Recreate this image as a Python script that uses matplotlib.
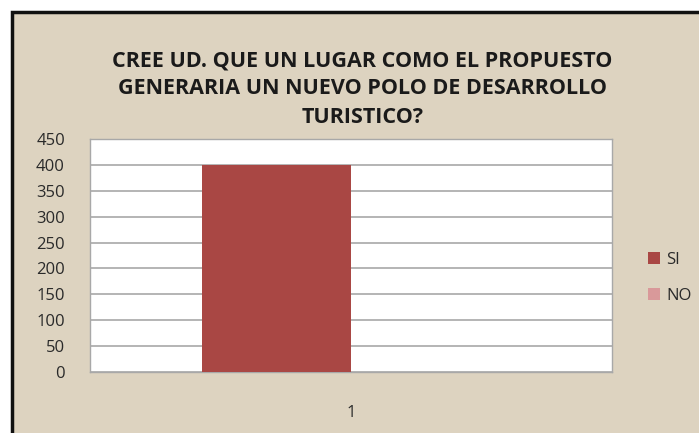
import matplotlib.pyplot as plt
from matplotlib.patches import Rectangle

# chart data
categories = ['1']
series_names = ['SI', 'NO']
series_values = [[400], [0]]
series_colors = ['#A94744', '#D9999A']
y_ticks = [0, 50, 100, 150, 200, 250, 300, 350, 400, 450]
title = 'CREE UD. QUE UN LUGAR COMO EL PROPUESTO\nGENERARIA UN NUEVO POLO DE DESARROLLO\nTURISTICO?'

W, H = 699, 433
fig = plt.figure(figsize=(W / 100, H / 100), dpi=100)
fig.patch.set_facecolor('white')

# beige panel with dark frame (runs off right/bottom edge)
frame = Rectangle((11.5 / W, -0.05), 1.2, (H - 11.5) / H + 0.05, transform=fig.transFigure,
                  facecolor='#DDD3C0', edgecolor='#111111', linewidth=2.5, zorder=-5)
fig.patches.append(frame)

ax = fig.add_axes([90 / W, (H - 372) / H, (612 - 90) / W, (372 - 139) / H])
ax.set_zorder(2)
ax.set_facecolor('white')

n = len(series_names)
bar_w = 1 / 3.5
for i, name in enumerate(series_names):
    offset = (i - (n - 1) / 2) * bar_w
    xs = [j + offset for j in range(len(categories))]
    ax.bar(xs, series_values[i], bar_w, color=series_colors[i], label=name, zorder=3)

ax.set_xlim(-0.5, len(categories) - 0.5)
ax.set_ylim(0, 450)
ax.set_yticks(y_ticks)
ax.set_xticks(range(len(categories)), labels=categories)
ax.grid(axis='y', color='#A8A8A8', linewidth=1.2, zorder=1)
ax.set_axisbelow(True)
for s in ax.spines.values():
    s.set_color('#A8A8A8')
    s.set_linewidth(1)
ax.tick_params(axis='both', length=0, labelsize=12, colors='#2a2a2a', labelfontfamily='Open Sans')
ax.tick_params(axis='y', pad=18)
ax.tick_params(axis='x', pad=24)

fig.text(0.5 + 13 / W, 1 - 89 / H, title, ha='center', va='center', fontsize=15.5,
         fontweight='bold', family='Open Sans', color='#1a1a1a', linespacing=1.45, zorder=3)

leg = ax.legend(loc='center left', bbox_to_anchor=(1.04, 0.405), frameon=False,
                prop={'family': 'Open Sans', 'size': 12}, handlelength=0.7, handleheight=0.7,
                handletextpad=0.4, labelspacing=1.2)
for t in leg.get_texts():
    t.set_color('#2a2a2a')

fig.savefig('out.png', dpi=100, facecolor=fig.get_facecolor())
